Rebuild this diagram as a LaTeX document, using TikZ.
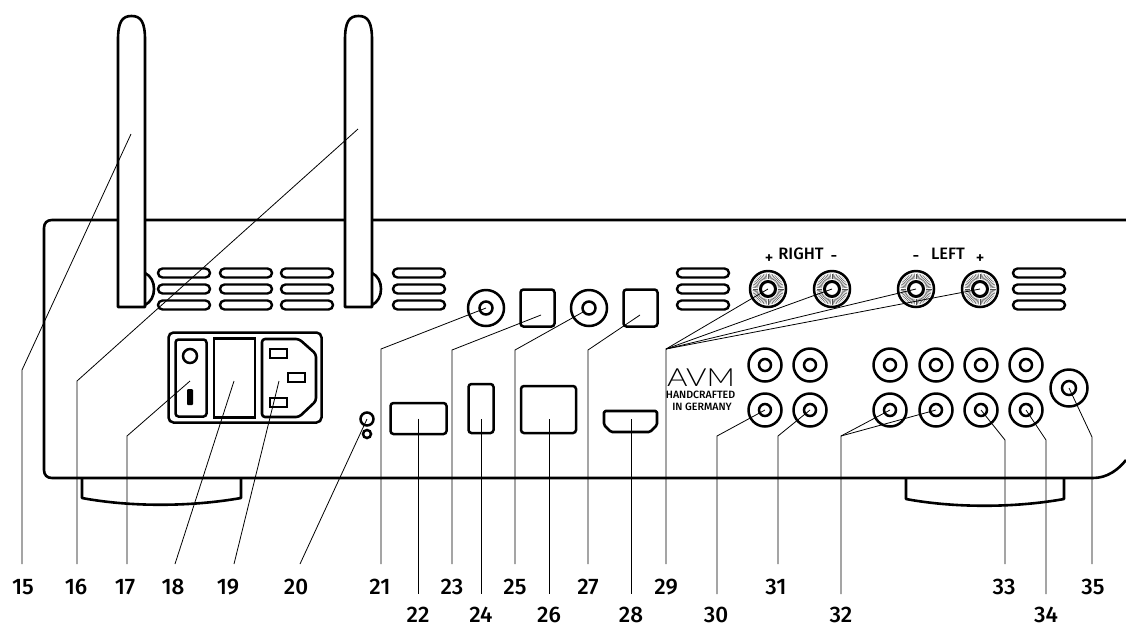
\documentclass[tikz,border=0pt]{standalone}
\usepackage{fontspec}
\setmainfont{Fira Sans Medium}
\newfontfamily\logofont{Lato Light}
\usetikzlibrary{positioning,calc}
\tikzset{
panelline/.style={line width=2.6pt,draw=black,line join=round},
vent/.style={line width=2.4pt,draw=black,rounded corners=4.5pt},
ring/.style={circle,draw=black,line width=2.5pt,inner sep=0pt,outer sep=0pt},
port/.style={rectangle,draw=black,line width=2.5pt,rounded corners=3pt,inner sep=0pt,outer sep=0pt},
fork/.style={line width=.8pt,draw=black},
leader/.style={fork,shorten >=15.5pt},
lowleader/.style={fork,shorten >=13pt},
numlabel/.style={font=\fontsize{22.5}{22.5}\selectfont,text=black,anchor=north,inner sep=0pt,text height=15pt,text depth=0pt},
panelnote/.style={inner sep=0pt,text=black},
termnote/.style={panelnote,font=\fontsize{16.5}{16.5}\selectfont},
smallnote/.style={panelnote,font=\fontsize{10.6}{10.6}\selectfont}}
\begin{document}
\begin{tikzpicture}[x=1pt,y=-1pt]
\useasboundingbox (0,0) rectangle (1126,625);
\draw[panelline] (1126,220) -- (52,220) .. controls (47,220) and (44,223) .. (44,228) -- (44,470) .. controls (44,475) and (47,478) .. (52,478) -- (1093,478) .. controls (1107,478) and (1118,470) .. (1126,460);
\draw[panelline] (82,478) -- (82,498) .. controls (130,507) and (190,507) .. (241,498) -- (241,478);
\draw[panelline] (906,478) -- (906,499) .. controls (954,508) and (1014,508) .. (1064,499) -- (1064,478);
\draw[panelline] (145,273) .. controls (151,276) and (154,282) .. (154,289) .. controls (154,296) and (151,302) .. (145,305);
\draw[panelline] (372,273) .. controls (378,276) and (381,282) .. (381,289) .. controls (381,296) and (378,302) .. (372,305);
\foreach \x in {158,220,281,393,677,1013}
  \foreach \y in {273,289,305}
    \draw[vent] (\x,{\y-4.5}) rectangle +(52,9);
\draw[panelline,fill=white] (118,307) -- (118,40) .. controls (118,22) and (122,16) .. (131.5,16) .. controls (141,16) and (145,22) .. (145,40) -- (145,307) -- cycle;
\draw[panelline,fill=white] (345,307) -- (345,40) .. controls (345,22) and (349,16) .. (358.5,16) .. controls (368,16) and (372,22) .. (372,40) -- (372,307) -- cycle;
\node[port,minimum width=153pt,minimum height=90pt,rounded corners=5pt] (inlet) at (245,377.5) {};
\node[port,minimum width=31pt,minimum height=77pt] (switch) at (191,378) {};
\node[ring,minimum size=14pt] (lamp) at (190,356) {};
\node[rectangle,fill=black,rounded corners=1pt,minimum width=6pt,minimum height=16pt,inner sep=0pt] (rocker) at (190,397) {};
\node[port,rounded corners=0pt,minimum width=41pt,minimum height=79pt] (fuse) at (234.5,378) {};
\draw[panelline,rounded corners=3pt] (280,339) -- (299,339) -- (316,354) -- (316,401) -- (299,417) -- (262,417) -- (262,339) -- cycle;
\node[port,rounded corners=0pt,line width=2pt,minimum width=17pt,minimum height=9pt] (pinl) at (278.5,353.5) {};
\node[port,rounded corners=0pt,line width=2pt,minimum width=17pt,minimum height=9pt] (pine) at (296.5,377.5) {};
\node[port,rounded corners=0pt,line width=2pt,minimum width=17pt,minimum height=9pt] (pinn) at (278.5,402) {};
\node[ring,minimum size=13pt] (sense) at (367,419) {};
\node[ring,minimum size=8pt] (sensetwo) at (367,434) {};
\node[port,minimum width=56pt,minimum height=31pt] (port22) at (418.5,418.5) {};
\node[ring,minimum size=36pt] (coax21) at (486,308) {};
\node[ring,minimum size=13pt] (coax21c) at (486,308) {};
\node[port,minimum width=34pt,minimum height=37pt] (opt23) at (537.5,308) {};
\node[ring,minimum size=36pt] (coax25) at (589,308) {};
\node[ring,minimum size=13pt] (coax25c) at (589,308) {};
\node[port,minimum width=34pt,minimum height=37pt] (opt27) at (640.5,308) {};
\node[port,minimum width=25pt,minimum height=49pt] (port24) at (481,408.5) {};
\node[port,minimum width=55pt,minimum height=47pt] (port26) at (548.5,409.5) {};
\draw[panelline,rounded corners=1.5pt] (604,411) -- (657,411) -- (657,425) -- (650,432) -- (611,432) -- (604,425) -- cycle;
\foreach \n/\x in {rp/768,rm/832,lm/916,lp/980}{
  \node[ring,minimum size=36pt] (sp\n) at (\x,289) {};
  \foreach \a in {0,6,...,354}
    \draw[line width=.45pt,draw=black!70] (sp\n)+(\a:10) -- +(\a:15.5);
  \node[ring,fill=white,line width=3pt,minimum size=15pt] (sp\n c) at (\x,289) {};
}
\foreach \n/\x/\y in {ta/765/365,tb/810/365,tc/890/365,td/936/365,te/981/365,tf/1026/365,ba/765/410,bb/810/410,bc/890/410,bd/936/410,be/981/410,bf/1026/410}{
  \node[ring,minimum size=33pt] (rca\n) at (\x,\y) {};
  \node[ring,minimum size=12pt] (rca\n c) at (\x,\y) {};
}
\node[ring,minimum size=37pt] (out35) at (1069,388) {};
\node[ring,minimum size=14pt] (out35c) at (1069,388) {};
\node[termnote] (right) at (801,254) {RIGHT};
\node[termnote] (left) at (948,254) {LEFT};
\node[termnote] (rplus) at (769,259) {+};
\node[termnote] (rminus) at (834,258) {-};
\node[termnote] (lminus) at (916,258) {-};
\node[termnote] (lplus) at (980,259) {+};
\node[panelnote,font=\logofont\fontsize{25}{25}\selectfont,xscale=1.25] (logo) at (701,378) {AVM};
\node[smallnote] (hand) at (700.5,395) {HANDCRAFTED};
\node[smallnote] (germany) at (702,406.5) {IN GERMANY};
\node[numlabel] (n15) at (23,579.5) {15};
\node[numlabel] (n16) at (76,579.5) {16};
\node[numlabel] (n17) at (125,579.5) {17};
\node[numlabel] (n18) at (173,579.5) {18};
\node[numlabel] (n19) at (228,579.5) {19};
\node[numlabel] (n20) at (296,579.5) {20};
\node[numlabel] (n21) at (380,579.5) {21};
\node[numlabel] (n22) at (418,607) {22};
\node[numlabel] (n23) at (452,579.5) {23};
\node[numlabel] (n24) at (481,607) {24};
\node[numlabel] (n25) at (515,579.5) {25};
\node[numlabel] (n26) at (549,607) {26};
\node[numlabel] (n27) at (588,579.5) {27};
\node[numlabel] (n28) at (631,607) {28};
\node[numlabel] (n29) at (666,579.5) {29};
\node[numlabel] (n30) at (716,607) {30};
\node[numlabel] (n31) at (776,579.5) {31};
\node[numlabel] (n32) at (841,607) {32};
\node[numlabel] (n33) at (1004,579.5) {33};
\node[numlabel] (n34) at (1046,607) {34};
\node[numlabel] (n35) at (1093,579.5) {35};
\coordinate (t15) at (131,134);
\coordinate (b15) at (22,370);
\coordinate (t16) at (358,129);
\coordinate (b16) at (77,381);
\coordinate (t17) at (190,381);
\coordinate (b17) at (127,436);
\coordinate (t18) at (234,381);
\coordinate (b18) at (175,564);
\coordinate (t19) at (279,381);
\coordinate (b19) at (234,564);
\coordinate (b20) at (300,564);
\coordinate (b21) at (381,349);
\coordinate (t23) at (541,315);
\coordinate (b23) at (452,350);
\coordinate (t24) at (481,419);
\coordinate (t25) at (583,312);
\coordinate (b25) at (515,350);
\coordinate (t26) at (549,419);
\coordinate (t27) at (640,315);
\coordinate (b27) at (588,350);
\coordinate (t28) at (631,419);
\coordinate (b29) at (666,349);
\coordinate (b30) at (717,436);
\coordinate (b31) at (778,436);
\coordinate (b32) at (841,436);
\coordinate (b33) at (1005,440);
\coordinate (b34) at (1046,440);
\coordinate (b35) at (1092,437);
\draw[leader] (t15)--(b15)--(b15 |- n15.north);
\draw[leader] (t16)--(b16)--(b16 |- n16.north);
\draw[leader] (t17)--(b17)--(b17 |- n17.north);
\draw[fork] (t18)--(b18);
\draw[fork] (t19)--(b19);
\draw[fork] (sense.center)--(b20);
\draw[leader] (coax21c.center)--(b21)--(b21 |- n21.north);
\draw[lowleader] (port22.center)--(port22.center |- n22.north);
\draw[leader] (t23)--(b23)--(b23 |- n23.north);
\draw[lowleader] (t24)--(t24 |- n24.north);
\draw[leader] (t25)--(b25)--(b25 |- n25.north);
\draw[lowleader] (t26)--(t26 |- n26.north);
\draw[leader] (t27)--(b27)--(b27 |- n27.north);
\draw[lowleader] (t28)--(t28 |- n28.north);
\draw[fork] (sprp.center)--(b29);
\draw[fork] (sprm.center)--(b29);
\draw[fork] (splm.center)--(b29);
\draw[leader] (splp.center)--(b29)--(b29 |- n29.north);
\draw[lowleader] (rcaba.center)--(b30)--(b30 |- n30.north);
\draw[leader] (rcabb.center)--(b31)--(b31 |- n31.north);
\draw[fork] (rcabc.center)--(b32);
\draw[lowleader] (rcabd.center)--(b32)--(b32 |- n32.north);
\draw[leader] (rcabe.center)--(b33)--(b33 |- n33.north);
\draw[lowleader] (rcabf.center)--(b34)--(b34 |- n34.north);
\draw[leader] (out35.center)--(b35)--(b35 |- n35.north);
\end{tikzpicture}
\end{document}
